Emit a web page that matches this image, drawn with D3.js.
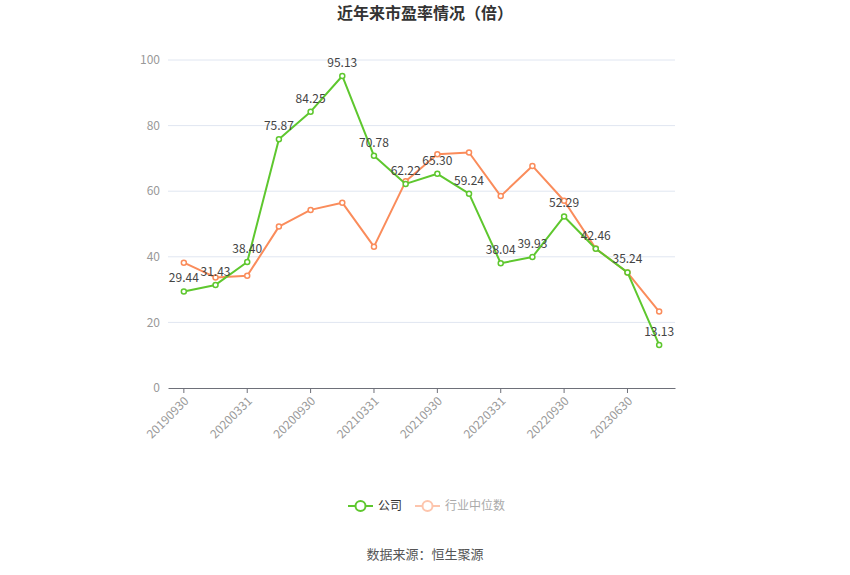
<!DOCTYPE html>
<html>
<head>
<meta charset="utf-8">
<script src="https://cdn.jsdelivr.net/npm/d3@7"></script>
<style>
  body { margin: 0; background: #fff; }
  text { font-family: "Noto Sans CJK SC", "Noto Sans", sans-serif; }
</style>
</head>
<body>
<svg id="chart" width="850" height="575"></svg>
<script>
var dates = ["20190930", "20191231", "20200331", "20200630", "20200930", "20201231", "20210331", "20210630",
    "20210930", "20211231", "20220331", "20220630", "20220930", "20230331", "20230630", "20230930"]
var company = [29.44, 31.43, 38.40, 75.87, 84.25, 95.13, 70.78, 62.22, 65.30, 59.24, 38.04, 39.93, 52.29, 42.46, 35.24, 13.13]
var industry = [38.2, 33.7, 34.2, 49.2, 54.3, 56.5, 43.1, 63.0, 71.3, 71.8, 58.5, 67.7, 57.1, 42.5, 35.2, 23.3]
var yTicks = [0, 20, 40, 60, 80, 100]

var green = "#5ec72e", orange = "#fa8c5b"
var margin = { top: 60, right: 175, bottom: 187, left: 168 }
var svg = d3.select("#chart")
var width = 850 - margin.left - margin.right,
    height = 575 - margin.top - margin.bottom

var g = svg.append("g").attr("transform", "translate(" + margin.left + "," + margin.top + ")")

var x = d3.scaleBand().domain(dates).range([0, width])
var y = d3.scaleLinear().domain([0, 100]).range([height, 0])
var cx = function (d, i) { return x(dates[i]) + x.bandwidth() / 2 }

// grid lines
g.selectAll(".grid").data(yTicks.slice(1)).enter().append("line")
    .attr("x1", 0).attr("x2", width)
    .attr("y1", d => y(d)).attr("y2", d => y(d))
    .attr("stroke", "#e0e6f1").attr("stroke-width", 1)

// y labels
g.selectAll(".ylab").data(yTicks).enter().append("text")
    .attr("x", -8).attr("y", d => y(d)).attr("dy", "0.35em")
    .attr("text-anchor", "end").attr("font-size", 12).attr("fill", "#999")
    .text(d => d)

// x axis
var xAxis = g.append("g").attr("transform", "translate(0," + height + ")")
    .call(d3.axisBottom(x).tickValues(dates.filter((d, i) => i % 2 == 0)).tickSize(5).tickSizeOuter(0))
xAxis.select(".domain").attr("stroke", "#6e7079")
xAxis.selectAll(".tick line").attr("stroke", "#6e7079")
xAxis.selectAll("text")
    .attr("fill", "#999").attr("font-size", 12)
    .attr("transform", "translate(-6,2)rotate(-45)")
    .style("text-anchor", "end")

var line = d3.line().x(cx).y(d => y(d))

function drawSeries(vals, color) {
    g.append("path").datum(vals)
        .attr("fill", "none").attr("stroke", color).attr("stroke-width", 2)
        .attr("stroke-linejoin", "round")
        .attr("d", line)
    g.selectAll(null).data(vals).enter().append("circle")
        .attr("cx", cx).attr("cy", d => y(d)).attr("r", 2.5)
        .attr("fill", "#fff").attr("stroke", color).attr("stroke-width", 1.5)
}

drawSeries(industry, orange)
drawSeries(company, green)

// value labels for company
g.selectAll(".vlab").data(company).enter().append("text")
    .attr("x", cx).attr("y", d => y(d) - 9)
    .attr("text-anchor", "middle").attr("font-size", 12).attr("fill", "#444")
    .text(d => d.toFixed(2))

// title
svg.append("text").attr("x", 425).attr("y", 19).attr("text-anchor", "middle")
    .attr("font-size", 16).attr("font-weight", "bold").attr("fill", "#333")
    .text("近年来市盈率情况（倍）")

// legend
var legend = [{ name: "公司", color: green, text: "#333", x: 348 }, { name: "行业中位数", color: "#fdc5ad", text: "#aaa", x: 415 }]
var lg = svg.selectAll(".legend").data(legend).enter().append("g")
    .attr("transform", d => "translate(" + d.x + ",506)")
lg.append("line").attr("x1", 0).attr("x2", 25).attr("y1", 0).attr("y2", 0)
    .attr("stroke", d => d.color).attr("stroke-width", 2)
lg.append("circle").attr("cx", 12.5).attr("cy", 0).attr("r", 5)
    .attr("fill", "#fff").attr("stroke", d => d.color).attr("stroke-width", 2)
lg.append("text").attr("x", 30).attr("y", 0).attr("dy", "0.35em")
    .attr("font-size", 12).attr("fill", d => d.text).text(d => d.name)

// source
svg.append("text").attr("x", 425).attr("y", 559).attr("text-anchor", "middle")
    .attr("font-size", 13).attr("fill", "#555")
    .text("数据来源：恒生聚源")
</script>
</body>
</html>
